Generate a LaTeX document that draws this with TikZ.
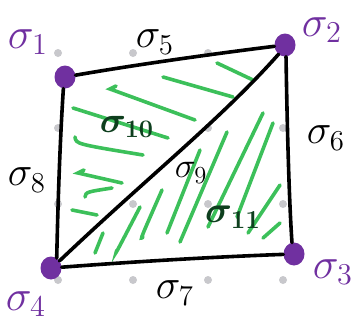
\documentclass[tikz,border=0pt]{standalone}
\usepackage{tikz}
\usepackage{graphicx}
\usetikzlibrary{shapes.geometric}
\newcommand\sigmark[2]{\scalebox{#1}{$\sigma_{#2}$}}
\begin{document}
\begin{tikzpicture}[x=1pt,y=-1pt,
  edge/.style={line width=3.6pt,black,line cap=round,line join=round},
  hatch/.style={line width=3.6pt,hatchgreen,line cap=round},
  griddot/.style={circle,fill=dotgrey,inner sep=0pt,minimum size=8pt},
  vertex/.style={ellipse,fill=vpurple,inner sep=0pt,minimum width=21pt,minimum height=23pt},
  vlabel/.style={text=vpurple,font=\fontsize{20}{20}\selectfont,inner sep=0pt},
  elabel/.style={text=black,font=\fontsize{20}{20}\selectfont,inner sep=0pt},
  flabel/.style={text=darkgreen,font=\fontsize{20}{20}\selectfont\boldmath,inner sep=0pt}]
\definecolor{vpurple}{HTML}{7030A0}
\definecolor{hatchgreen}{HTML}{3CC05A}
\definecolor{darkgreen}{HTML}{0E3F1E}
\definecolor{dotgrey}{HTML}{C8C8CC}
\useasboundingbox (0,0) rectangle (355,327);
% grid dots
\foreach \gx/\gy [count=\i] in {58/53,133/53,208/53,58/128,208/128,283/128,58/204,133/204,208/204,283/204,58/280,133/280,208/280,283/280}
  \node[griddot] (g\i) at (\gx,\gy) {};
% hatching upper triangle
\draw[hatch] (217,63) -- (253,80);
\draw[hatch] (163,77) -- (233,97);
\draw[hatch] (116,86) -- (110,89) -- (195,120);
\draw[hatch] (73,108) -- (168,138);
\draw[hatch] (75,137) .. controls (76,144) .. (143,155);
\draw[hatch] (84,170) -- (78,173) -- (122,183);
\draw[hatch] (85,197) .. controls (86,192) .. (112,188);
\draw[hatch] (72,210) -- (97,215);
% hatching lower triangle
\draw[hatch] (95,253) -- (103,233);
\draw[hatch] (117,250) .. controls (115,255) .. (140,207);
\draw[hatch] (143,237) .. controls (140,240) .. (162,190);
\draw[hatch] (167,233) -- (200,150);
\draw[hatch] (180,242) -- (227,132);
\draw[hatch] (208,227) -- (263,113);
\draw[hatch] (237,217) -- (273,123);
\draw[hatch] (248,233) -- (280,185);
\draw[hatch] (263,238) -- (280,223);
% vertices
\node[vertex] (v1) at (65,77) {};
\node[vertex] (v2) at (285,45) {};
\node[vertex] (v3) at (294,254) {};
\node[vertex] (v4) at (51,268) {};
% edges
\draw[edge] (v1) .. controls (140,64) and (220,53) .. (v2);
\draw[edge] (v2.275) .. controls (287,120) and (289,200) .. (v3.100);
\draw[edge] (v3) .. controls (210,257) and (130,262) .. (v4);
\draw[edge] (v4.60) .. controls (58,200) and (60,140) .. (v1.262);
\draw[edge] (v4.40) .. controls (150,175) and (220,120) .. (v2.235);
% labels
\node[vlabel] (l1) at (28,42) {\sigmark{2.1}{1}};
\node[vlabel] (l2) at (322,30) {\sigmark{2.1}{2}};
\node[vlabel] (l3) at (333,272) {\sigmark{2.1}{3}};
\node[vlabel] (l4) at (26,304) {\sigmark{2.1}{4}};
\node[elabel] (l5) at (155,42) {\sigmark{2.0}{5}};
\node[elabel] (l6) at (326,138) {\sigmark{2.0}{6}};
\node[elabel] (l7) at (175,293) {\sigmark{2.0}{7}};
\node[elabel] (l8) at (27,180) {\sigmark{2.0}{8}};
\node[elabel] (l9) at (191,173) {\sigmark{1.7}{9}};
\node[flabel] (l10) at (127,127) {\sigmark{1.75}{10}};
\node[flabel] (l11) at (233,217) {\sigmark{1.8}{11}};
\end{tikzpicture}
\end{document}
